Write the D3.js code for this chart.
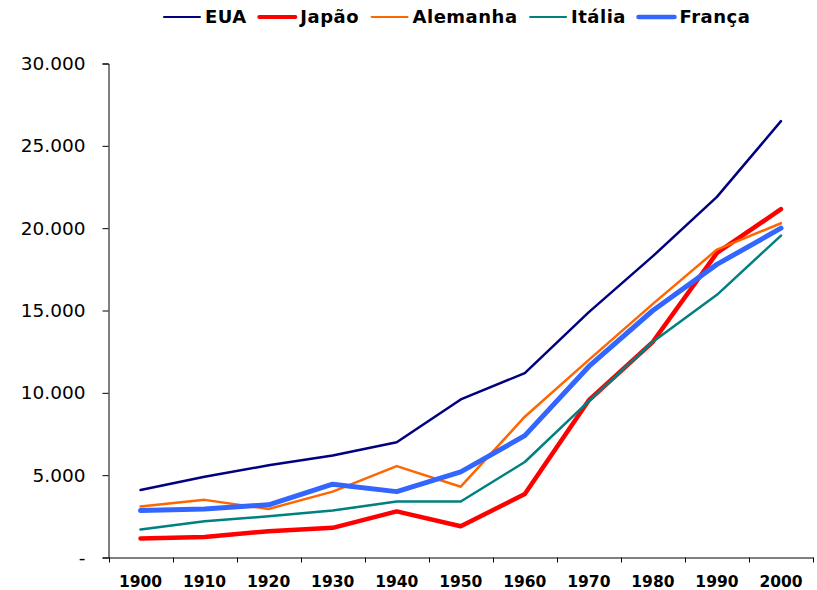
<!DOCTYPE html>
<html>
<head>
<meta charset="utf-8">
<script src="https://cdn.jsdelivr.net/npm/d3@7"></script>
<style>
  body { margin: 0; background: #fff; }
  svg { display: block; }
</style>
</head>
<body>
<svg class="chart"></svg>
<script>
var years = ['1900', '1910', '1920', '1930', '1940', '1950', '1960', '1970', '1980', '1990', '2000'];
var countries = ['EUA', 'Japão', 'Alemanha', 'Itália', 'França'];
var eua      = [4100, 4900, 5600, 6200, 7000, 9600, 11200, 14900, 18300, 21900, 26500];
var japao    = [1150, 1250, 1600, 1800, 2800, 1900, 3850, 9550, 13100, 18500, 21150];
var alemanha = [3100, 3500, 2950, 4000, 5550, 4300, 8550, 12000, 15400, 18700, 20300];
var italia   = [1700, 2200, 2500, 2850, 3400, 3400, 5800, 9500, 13100, 15950, 19550];
var franca   = [2850, 2950, 3200, 4450, 4000, 5200, 7400, 11600, 15000, 17800, 20000];
var yTicks = [0, 5000, 10000, 15000, 20000, 25000, 30000];

var colors = ['#000080', '#ff0000', '#ff6600', '#008080', '#3366ff'];
var widths = [2.5, 4.5, 2.5, 2.5, 5];

function show() {
    'use strict';

    var W = 817, H = 590;
    var svg = d3.select('.chart').attr('width', W).attr('height', H);

    var x = d3.scaleBand().domain(years).range([108.5, 813]);
    var y = d3.scaleLinear().domain([0, 30000]).range([557.5, 63.5]);

    var fmt = function (v) {
        return v === 0 ? '-' : d3.format(',')(v).replace(/,/g, '.');
    };

    // y axis
    var yAxis = svg.append('g')
        .attr('transform', 'translate(108.5,0)')
        .call(d3.axisLeft(y).tickValues(yTicks).tickFormat(fmt).tickSize(6).tickPadding(17));
    yAxis.select('.domain').attr('stroke', '#000').attr('stroke-width', 1);
    yAxis.selectAll('.tick line').attr('stroke', '#000');
    yAxis.selectAll('text')
        .attr('font-family', 'DejaVu Sans, Verdana, sans-serif')
        .attr('font-size', '18.5px')
        .attr('fill', '#000');

    // x axis: labels centred in bands, ticks on band edges
    var xAxis = svg.append('g')
        .attr('transform', 'translate(0,557.5)')
        .call(d3.axisBottom(x).tickSize(0).tickPadding(18));
    xAxis.select('.domain').attr('stroke', '#000').attr('stroke-width', 1);
    xAxis.selectAll('text')
        .attr('font-family', 'DejaVu Sans, Verdana, sans-serif')
        .attr('font-size', '15.5px')
        .attr('font-weight', 'bold')
        .attr('fill', '#000');
    var edges = years.map(function (d) { return x(d); }).concat([x.range()[1]]);
    xAxis.selectAll('line.edge').data(edges).enter().append('line')
        .attr('class', 'edge')
        .attr('x1', function (d) { return Math.round(d) + 0.5; })
        .attr('x2', function (d) { return Math.round(d) + 0.5; })
        .attr('y1', 0).attr('y2', 5)
        .attr('stroke', '#000');

    // lines
    var series = [eua, japao, alemanha, italia, franca];
    var line = d3.line()
        .x(function (d, i) { return x(years[i]) + x.bandwidth() / 2; })
        .y(function (d) { return y(d); });

    svg.append('g').selectAll('path').data(series).enter().append('path')
        .attr('d', line)
        .attr('fill', 'none')
        .attr('stroke', function (d, i) { return colors[i]; })
        .attr('stroke-width', function (d, i) { return widths[i]; })
        .attr('stroke-linejoin', 'round')
        .attr('stroke-linecap', 'round');

    // legend (Verdana is a bit wider than DejaVu, hence the letter spacing)
    var legend = svg.append('g').attr('transform', 'translate(0,17)');
    var lx = 163;
    countries.forEach(function (name, i) {
        var item = legend.append('g');
        item.append('line')
            .attr('x1', lx + 1).attr('x2', lx + 37)
            .attr('y1', 0).attr('y2', 0)
            .attr('stroke', colors[i])
            .attr('stroke-width', widths[i] - 0.5)
            .attr('stroke-linecap', 'round');
        var t = item.append('text')
            .attr('x', lx + 42)
            .attr('y', 0)
            .attr('dy', '0.36em')
            .attr('font-family', 'DejaVu Sans, Verdana, sans-serif')
            .attr('font-size', '18px')
            .attr('font-weight', 'bold')
            .attr('letter-spacing', '0.5px')
            .attr('fill', '#000')
            .text(name);
        lx += 42 + t.node().getComputedTextLength() + 11.5;
    });
}

show();
</script>
</body>
</html>
